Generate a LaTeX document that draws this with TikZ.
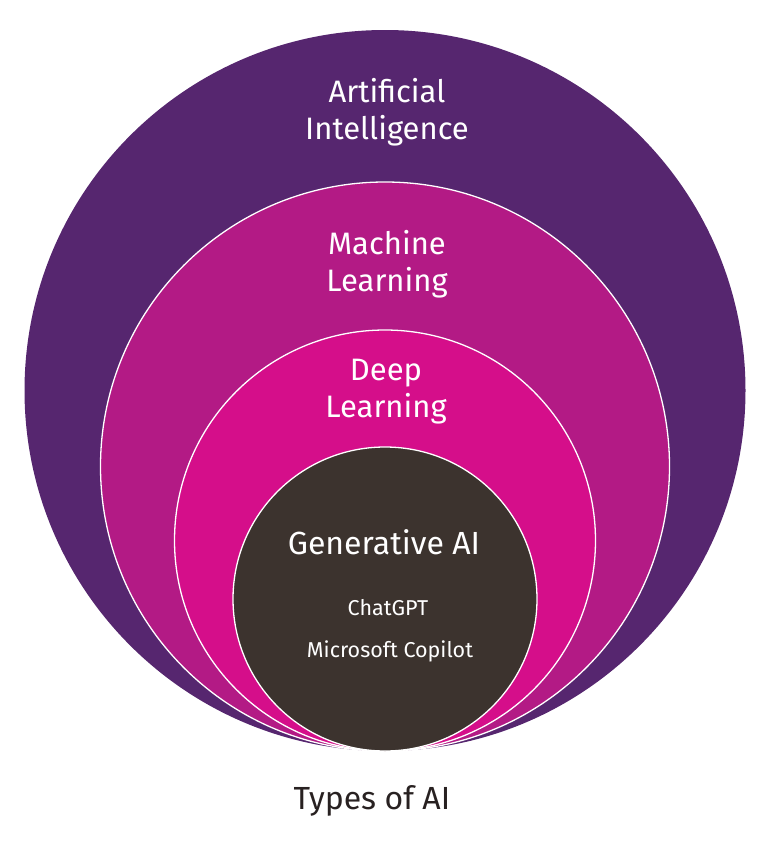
\documentclass[tikz,border=0pt]{standalone}
\usepackage{fontspec}
\setmainfont{Fira Sans}
\definecolor{aipurple}{RGB}{86,38,111}
\definecolor{mlmagenta}{RGB}{179,26,133}
\definecolor{dlpink}{RGB}{213,14,138}
\definecolor{gendark}{RGB}{60,51,46}
\definecolor{captiondark}{RGB}{40,33,33}

\tikzset{
  ring/.style={circle, inner sep=0pt, draw=white, line width=1.3pt},
  ringlabel/.style={text=white, align=center, anchor=base,
    font=\fontsize{31}{37}\selectfont},
  toollabel/.style={text=white, anchor=base, font=\fontsize{21.5}{24}\selectfont}
}

\begin{document}
\begin{tikzpicture}[x=1pt, y=-1pt]

% Canvas
\useasboundingbox (0,0) rectangle (770,849);

% Nested circles, all touching at the bottom
\node[circle, inner sep=0pt, fill=aipurple, minimum size=721pt] (ai) at (385,390.5) {};
\node[ring, fill=mlmagenta, minimum size=569pt] (ml) at (385,466.5) {};
\node[ring, fill=dlpink, minimum size=421pt] (dl) at (385,540.5) {};
\node[ring, fill=gendark, minimum size=304pt] (gen) at (385,599) {};

% Circle titles (base = last line)
\node[ringlabel] (ailabel) at (387,139) {Artificial\\Intelligence};
\node[ringlabel] (mllabel) at (387,291) {Machine\\Learning};
\node[ringlabel] (dllabel) at (386,417) {Deep\\Learning};
\node[ringlabel, font=\fontsize{32}{36}\selectfont] (genlabel) at (384,554) {Generative AI};

% Examples
\node[toollabel] (chatgpt) at (388,615) {ChatGPT};
\node[toollabel] (copilot) at (390,657) {Microsoft Copilot};

% Caption
\node[text=captiondark, anchor=base, font=\fontsize{32}{36}\selectfont] (caption) at (372,809) {Types of AI};

\end{tikzpicture}
\end{document}
